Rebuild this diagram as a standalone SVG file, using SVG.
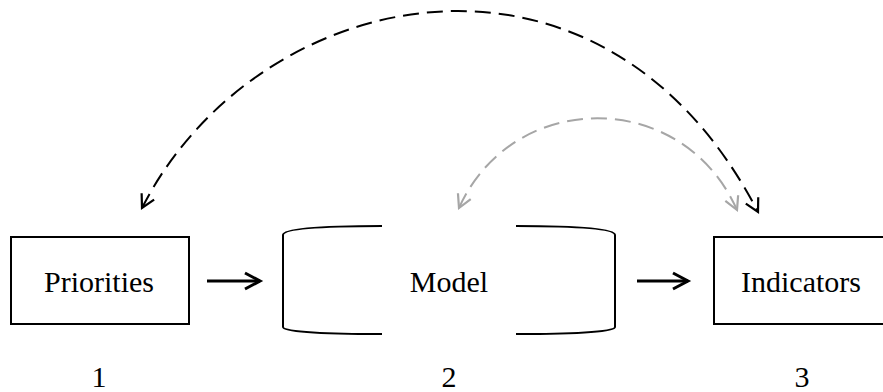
<svg xmlns="http://www.w3.org/2000/svg" width="883" height="392" viewBox="0 0 883 392">
  <style>
    .box { fill: #fff; stroke: #000; stroke-width: 2; }
    .bracket { fill: none; stroke: #000; stroke-width: 2; }
    .flow { fill: none; stroke: #000; stroke-width: 3; }
    .dash-black { fill: none; stroke: #000; stroke-width: 2; stroke-dasharray: 16 8; }
    .dash-gray { fill: none; stroke: #a6a6a6; stroke-width: 2; stroke-dasharray: 16 8; }
    text { font-family: "Liberation Serif", "Times New Roman", Times, "DejaVu Serif", serif; font-size: 30px; fill: #000; text-anchor: middle; }
  </style>
  <defs>
    <marker id="head-solid" markerUnits="userSpaceOnUse" viewBox="-16 -10 18 20" refX="0" refY="0" markerWidth="18" markerHeight="20" orient="auto" overflow="visible">
      <path d="M-15,-8 L0,0 L-15,8" fill="none" stroke="#000" stroke-width="3"/>
    </marker>
    <marker id="head-black" markerUnits="userSpaceOnUse" viewBox="-16 -10 18 20" refX="0" refY="0" markerWidth="18" markerHeight="20" orient="auto-start-reverse" overflow="visible">
      <path d="M-13,-7 L0,0 L-13,7" fill="none" stroke="#000" stroke-width="2.2" stroke-dasharray="none"/>
    </marker>
    <marker id="head-gray" markerUnits="userSpaceOnUse" viewBox="-16 -10 18 20" refX="0" refY="0" markerWidth="18" markerHeight="20" orient="auto-start-reverse" overflow="visible">
      <path d="M-13,-7 L0,0 L-13,7" fill="none" stroke="#a6a6a6" stroke-width="2.2" stroke-dasharray="none"/>
    </marker>
  </defs>

  <g id="node-priorities">
    <rect class="box" x="11" y="237" width="178" height="87"/>
    <text x="99" y="292">Priorities</text>
    <text x="99" y="387">1</text>
  </g>

  <g id="node-model">
    <path class="bracket" d="M382,226 C330,226 283,228 283,235 L283,327 C283,332 330,334 382,334"/>
    <path class="bracket" d="M516,226 C568,226 615,228 615,235 L615,327 C615,332 568,334 516,334"/>
    <text x="449" y="292">Model</text>
    <text x="449" y="387">2</text>
  </g>

  <g id="node-indicators">
    <rect class="box" x="714" y="237" width="176" height="87"/>
    <text x="801" y="292">Indicators</text>
    <text x="802" y="387">3</text>
  </g>

  <g id="connectors">
    <line class="flow" x1="207" y1="281" x2="260" y2="281" marker-end="url(#head-solid)"/>
    <line class="flow" x1="637" y1="281" x2="688" y2="281" marker-end="url(#head-solid)"/>
    <path class="dash-black" d="M142,208 C255,-15 600,-93 758,212" marker-start="url(#head-black)" marker-end="url(#head-black)"/>
    <path class="dash-gray" d="M459,208 C513,88 683,88 737,210" marker-start="url(#head-gray)" marker-end="url(#head-gray)"/>
  </g>
</svg>
